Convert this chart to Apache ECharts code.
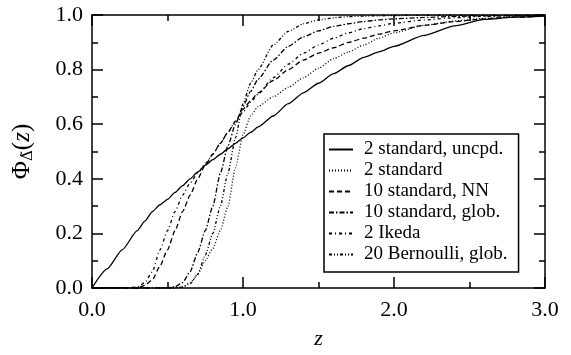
<!DOCTYPE html>
<html>
<head>
<meta charset="utf-8">
<script src="https://cdn.jsdelivr.net/npm/echarts@6/dist/echarts.min.js"></script>
<style>
  html, body { margin: 0; padding: 0; background: #fff; }
  #chart { width: 571px; height: 355px; }
</style>
</head>
<body>
<div id="chart"></div>
<script>
// z grid shared by every curve
const zGrid = [0, 0.1, 0.2, 0.3, 0.35, 0.4, 0.45, 0.5, 0.55, 0.6, 0.65, 0.7, 0.75, 0.8, 0.85, 0.9, 0.95,
  1.0, 1.05, 1.1, 1.2, 1.3, 1.4, 1.5, 1.6, 1.7, 1.8, 1.9, 2.0, 2.2, 2.4, 2.6, 2.8, 3.0]

// values
const uncpd = [0, 0.07, 0.14, 0.21, 0.245, 0.28, 0.305, 0.325, 0.35, 0.375, 0.40, 0.425, 0.45, 0.47, 0.49, 0.51, 0.53,
  0.55, 0.57, 0.59, 0.63, 0.675, 0.715, 0.75, 0.785, 0.815, 0.845, 0.865, 0.885, 0.925, 0.96, 0.984, 0.992, 0.996]
const std2 = [0, 0, 0, 0, 0, 0, 0, 0, 0, 0.005, 0.02, 0.05, 0.10, 0.145, 0.21, 0.30, 0.44,
  0.56, 0.63, 0.665, 0.70, 0.735, 0.77, 0.805, 0.84, 0.865, 0.89, 0.915, 0.935, 0.962, 0.978, 0.988, 0.994, 0.997]
const std10NN = [0, 0, 0, 0, 0.01, 0.03, 0.08, 0.14, 0.21, 0.28, 0.34, 0.40, 0.45, 0.49, 0.53, 0.57, 0.61,
  0.655, 0.685, 0.715, 0.76, 0.80, 0.835, 0.86, 0.88, 0.90, 0.915, 0.93, 0.942, 0.962, 0.976, 0.986, 0.992, 0.996]
const std10glob = [0, 0, 0, 0, 0, 0, 0, 0, 0.005, 0.02, 0.06, 0.13, 0.21, 0.30, 0.42, 0.52, 0.60,
  0.665, 0.72, 0.765, 0.835, 0.885, 0.92, 0.942, 0.958, 0.968, 0.976, 0.982, 0.986, 0.991, 0.995, 0.997, 0.998, 0.999]
const ikeda2 = [0, 0, 0, 0.003, 0.02, 0.06, 0.14, 0.21, 0.28, 0.34, 0.385, 0.42, 0.455, 0.49, 0.53, 0.57, 0.61,
  0.645, 0.68, 0.71, 0.77, 0.82, 0.86, 0.89, 0.915, 0.935, 0.95, 0.96, 0.97, 0.982, 0.99, 0.995, 0.997, 0.998]
const bern20 = [0, 0, 0, 0, 0, 0, 0, 0, 0, 0.003, 0.015, 0.05, 0.12, 0.20, 0.30, 0.42, 0.55,
  0.675, 0.75, 0.80, 0.89, 0.94, 0.968, 0.982, 0.99, 0.994, 0.996, 0.997, 0.998, 0.999, 0.999, 0.999, 0.999, 0.999]

const seriesNames = ['2 standard, uncpd.', '2 standard', '10 standard, NN', '10 standard, glob.', '2 Ikeda', '20 Bernoulli, glob.']
const seriesValues = [uncpd, std2, std10NN, std10glob, ikeda2, bern20]
const dashes = ['solid', [1, 2], [5, 3], [5, 2, 1.5, 2], [3, 3, 1, 3], [3, 2, 1, 2, 1, 2]]

const xTicks = ['0.0', '1.0', '2.0', '3.0']

const serif = '"Liberation Serif", "DejaVu Serif", serif'
const black = '#000'

const chart = echarts.init(document.getElementById('chart'))

function xAxisBase(pos) {
  return {
    type: 'value',
    min: 0,
    max: 3,
    interval: 1,
    position: pos,
    axisLine: { onZero: false, lineStyle: { color: black, width: 1.5 } },
    axisTick: { inside: true, length: 11, lineStyle: { color: black, width: 1.5 } },
    minorTick: { show: true, splitNumber: 2, length: 6, lineStyle: { color: black, width: 1.5 } },
    splitLine: { show: false },
    minorSplitLine: { show: false },
  }
}

function yAxisBase(pos) {
  return {
    type: 'value',
    min: 0,
    max: 1,
    interval: 0.2,
    position: pos,
    axisLine: { show: true, onZero: false, lineStyle: { color: black, width: 1.5 } },
    axisTick: { show: true, inside: true, length: 11, lineStyle: { color: black, width: 1.5 } },
    minorTick: { show: true, splitNumber: 2, length: 6, lineStyle: { color: black, width: 1.5 } },
    splitLine: { show: false },
    minorSplitLine: { show: false },
  }
}

const series = seriesNames.map((name, i) => ({
  name,
  type: 'line',
  data: zGrid.map((z, k) => [z, seriesValues[i][k]]),
  showSymbol: false,
  symbol: 'none',
  smooth: 0.2,
  smoothMonotone: 'x',
  lineStyle: { color: black, width: 1.3, type: dashes[i] },
  itemStyle: { color: black },
  emphasis: { disabled: true },
}))

chart.setOption({
  animation: false,
  backgroundColor: '#fff',
  grid: { left: 92, right: 26, top: 15, bottom: 57 },
  legend: {
    show: true,
    orient: 'vertical',
    left: 324,
    top: 134,
    padding: [6, 11, 8, 4],
    itemWidth: 24,
    itemHeight: 14,
    itemGap: 2,
    itemStyle: { opacity: 0 },
    borderColor: black,
    borderWidth: 1.5,
    backgroundColor: '#fff',
    data: seriesNames,
    textStyle: { fontFamily: serif, fontSize: 19, color: black, padding: [0, 0, 0, 6] },
  },
  xAxis: [
    Object.assign(xAxisBase('bottom'), {
      axisLabel: {
        color: black, fontFamily: serif, fontSize: 22, margin: 11,
        formatter: v => xTicks[Math.round(v)],
      },
      name: 'z',
      nameLocation: 'middle',
      nameGap: 40,
      nameTextStyle: { color: black, fontFamily: serif, fontSize: 22, fontStyle: 'italic' },
    }),
    Object.assign(xAxisBase('top'), { axisLabel: { show: false } }),
  ],
  yAxis: [
    Object.assign(yAxisBase('left'), {
      axisLabel: {
        color: black, fontFamily: serif, fontSize: 22, margin: 9,
        formatter: v => v.toFixed(1),
      },
      name: '{a|Φ}{s|Δ̃}{a|(}{i|z}{a|)}',
      nameLocation: 'middle',
      nameGap: 56,
      nameRotate: 90,
      nameTextStyle: {
        color: black,
        rich: {
          a: { fontFamily: serif, fontSize: 25, color: black },
          i: { fontFamily: serif, fontSize: 25, fontStyle: 'italic', color: black },
          s: { fontFamily: '"DejaVu Serif", serif', fontSize: 15, color: black, padding: [12, 0, 0, 0] },
        },
      },
    }),
    Object.assign(yAxisBase('right'), { axisLabel: { show: false } }),
  ],
  series,
})
</script>
</body>
</html>
